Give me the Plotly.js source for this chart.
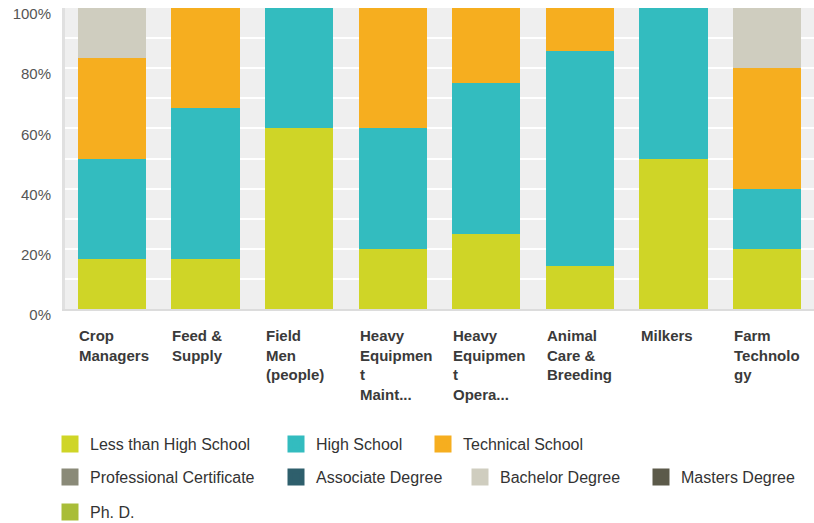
<!DOCTYPE html>
<html>
<head>
<meta charset="utf-8">
<script src="https://cdn.plot.ly/plotly-3.0.1.min.js"></script>
<style>html,body{margin:0;padding:0;background:#fff;}#chart{width:814px;height:523px;}</style>
</head>
<body>
<div id="chart"></div>
<script>
// ---- data ----
var categories = [
  "Crop<br>Managers",
  "Feed &<br>Supply",
  "Field<br>Men<br>(people)",
  "Heavy<br>Equipmen<br>t<br>Maint...",
  "Heavy<br>Equipmen<br>t<br>Opera...",
  "Animal<br>Care &<br>Breeding",
  "Milkers",
  "Farm<br>Technolo<br>gy"
];
var seriesNames = [
  "Less than High School", "High School", "Technical School",
  "Professional Certificate", "Associate Degree", "Bachelor Degree",
  "Masters Degree", "Ph. D."
];
var lessThanHighSchool   = [16.7, 16.7, 60, 20, 25, 14.3, 50, 20];
var highSchool           = [33.3, 50.0, 40, 40, 50, 71.4, 50, 20];
var technicalSchool      = [33.3, 33.3, 0, 40, 25, 14.3, 0, 40];
var professionalCert     = [0, 0, 0, 0, 0, 0, 0, 0];
var associateDegree      = [0, 0, 0, 0, 0, 0, 0, 0];
var bachelorDegree       = [16.7, 0, 0, 0, 0, 0, 0, 20];
var mastersDegree        = [0, 0, 0, 0, 0, 0, 0, 0];
var phd                  = [0, 0, 0, 0, 0, 0, 0, 0];
var yTickValues = [0, 20, 40, 60, 80, 100];

// ---- styles ----
var seriesValues = [lessThanHighSchool, highSchool, technicalSchool, professionalCert,
                    associateDegree, bachelorDegree, mastersDegree, phd];
var colors = ["#cfd527", "#33bcbf", "#f6ae1f", "#8a8a78", "#2e5f6c", "#cfcdbf", "#5c5a4a", "#a9bd38"];
// legend entry positions: [text left x px, row center y px]
var legendPos = [[90, 444], [316, 444], [463, 444],
                 [90, 477], [316, 477], [500, 477], [681, 477],
                 [90, 512]];
var W = 814, H = 523;

// the bars themselves
var traces = seriesValues.map(function (vals, i) {
  return {
    type: "bar",
    name: seriesNames[i],
    x: categories,
    y: vals,
    marker: { color: colors[i] },
    showlegend: false,
    hoverinfo: "skip"
  };
});
// legend entries (no marks drawn; larger swatch via outline)
seriesNames.forEach(function (n, i) {
  traces.push({
    type: "bar",
    name: n,
    x: [categories[0]],
    y: [null],
    marker: { color: colors[i], line: { color: colors[i], width: 5 } },
    showlegend: true,
    legend: i === 0 ? "legend" : "legend" + (i + 1),
    hoverinfo: "skip"
  });
});

var layout = {
  width: W, height: H,
  margin: { l: 65, r: 0, t: 8, b: 213.5, pad: 0 },
  paper_bgcolor: "#ffffff",
  plot_bgcolor: "#efefef",
  barmode: "stack",
  bargap: 0.27,
  font: { family: "Liberation Sans, Arial, sans-serif", color: "#333" },
  xaxis: {
    type: "category",
    range: [-0.5, categories.length - 0.5],
    showticklabels: false,
    showgrid: false,
    zeroline: false,
    showline: true, linecolor: "#dcdcdc", linewidth: 2,
    fixedrange: true
  },
  yaxis: {
    range: [0, 100],
    tickvals: yTickValues,
    ticktext: yTickValues.map(function (v) { return v + "%"; }),
    tickfont: { size: 15, color: "#555" },
    ticklabelshift: 6,
    ticklabelstandoff: 8,
    ticklabeloverflow: "allow",
    showgrid: true, gridcolor: "#ffffff", gridwidth: 2,
    minor: { dtick: 10, showgrid: true, gridcolor: "#ffffff", gridwidth: 2 },
    zeroline: false,
    showline: true, linecolor: "#e0e0e0", linewidth: 3,
    fixedrange: true
  },
  annotations: categories.map(function (c) {
    return {
      x: c, xref: "x", y: 0, yref: "paper",
      xanchor: "left", yanchor: "top", align: "left",
      xshift: -35, yshift: -16,
      text: c, showarrow: false,
      font: { size: 15, color: "#3a3a3a", family: "Liberation Sans, Arial, sans-serif", weight: "bold" }
    };
  }),
  showlegend: true
};

legendPos.forEach(function (p, i) {
  var key = i === 0 ? "legend" : "legend" + (i + 1);
  layout[key] = {
    orientation: "h",
    xref: "container", yref: "container",
    x: (p[0] - 40) / W, y: 1 - p[1] / H,
    xanchor: "left", yanchor: "middle",
    bgcolor: "rgba(0,0,0,0)", borderwidth: 0,
    font: { size: 16, color: "#333", family: "Liberation Sans, Arial, sans-serif" },
    itemclick: false, itemdoubleclick: false
  };
});

Plotly.newPlot("chart", traces, layout, { displayModeBar: false, staticPlot: true });
</script>
</body>
</html>
